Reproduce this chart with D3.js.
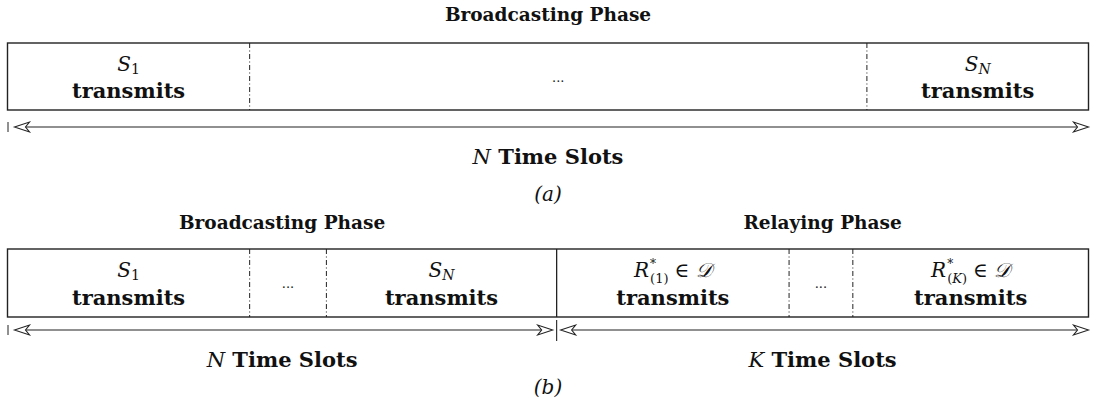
<!DOCTYPE html>
<html><head><meta charset="utf-8">
<script src="https://cdn.jsdelivr.net/npm/d3@7"></script>
<style>body{margin:0;background:#fff}svg{display:block}</style>
</head><body>
<script>
// ---- data ----
const titleA = "Broadcasting Phase";
const titleB = ["Broadcasting Phase", "Relaying Phase"];
// boundaries on a 0..100 time axis
const boundsA = [0, 22.4, 79.5, 100];
const boundsB = [0, 22.4, 29.5, 50.8, 72.3, 78.2, 100];
const styleA = ["dash", "dash"];           // interior dividers
const styleB = ["dash", "dash", "solid", "dash", "dash"];
const labelsA = [["S", "1"], ["dots"], ["S", "N"]];
const labelsB = [["S", "1"], ["dots"], ["S", "N"], ["R", "(1)"], ["dots"], ["R", "(K)"]];
const slotLabelsA = [{v: "N", t: " Time Slots", from: 0, to: 100}];
const slotLabelsB = [{v: "N", t: " Time Slots", from: 0, to: 50.8}, {v: "K", t: " Time Slots", from: 50.8, to: 100}];
const captions = ["(a)", "(b)"];

const W = 1096, H = 403;
const FONT = "'DejaVu Serif', serif";
const svg = d3.select("body").append("svg").attr("width", W).attr("height", H)
  .attr("font-family", FONT).attr("fill", "#111");
const x = d3.scaleLinear().domain([0, 100]).range([7.5, 1088.5]);
const ink = "#222";

function arrowHead(g, tipX, y, dir) {
  const L = 15, h = 5, notch = 4;
  const bx = tipX - dir * L;
  g.append("path")
    .attr("d", `M${tipX},${y} L${bx},${y - h} L${bx + dir * notch},${y} L${bx},${y + h} Z`)
    .attr("fill", "#fff").attr("stroke", ink).attr("stroke-width", 1.1).attr("stroke-linejoin", "miter");
}

function mathLabel(g, cx, y, lab) {
  if (lab[0] === "dots") {
    g.append("text").attr("x", cx).attr("y", y + 11).attr("text-anchor", "middle")
      .attr("font-size", 13).attr("fill", "#222").text("...");
    return;
  }
  if (lab[0] === "R") {
    const grp = g.append("g");
    const r = grp.append("text").attr("x", 0).attr("y", y).attr("font-size", 20).attr("font-style", "italic").text("R");
    const rw = r.node().getComputedTextLength();
    const sub = grp.append("text").attr("x", rw + 1).attr("y", y + 6).attr("font-size", 13);
    sub.append("tspan").text("(");
    sub.append("tspan").attr("font-style", lab[1].includes("K") ? "italic" : "normal").text(lab[1].slice(1, -1));
    sub.append("tspan").text(")");
    const sw = sub.node().getComputedTextLength();
    grp.append("text").attr("x", rw + 1).attr("y", y - 9).attr("font-size", 12).text("*");
    const rest = grp.append("text").attr("x", rw + sw + 7).attr("y", y).attr("font-size", 20);
    rest.append("tspan").text("\u2208 ");
    rest.append("tspan").attr("font-style", "italic").text("\uD835\uDC9F");
    const total = rw + sw + 7 + rest.node().getComputedTextLength();
    grp.attr("transform", `translate(${cx - total / 2},0)`);
    return;
  }
  const t = g.append("text").attr("x", cx).attr("y", y).attr("text-anchor", "middle").attr("font-size", 20);
  t.append("tspan").attr("font-style", "italic").text(lab[0]);
  t.append("tspan").attr("font-size", 14).attr("dy", 3).attr("font-style", lab[1] === "N" ? "italic" : "normal").text(lab[1]);
}

function panel(yTop, yBot, bounds, styles, labels, arrowY, slotLabels, tickExtra, offS, offT) {
  const g = svg.append("g");
  g.append("rect").attr("x", x(0)).attr("y", yTop).attr("width", x(100) - x(0)).attr("height", yBot - yTop)
    .attr("fill", "none").attr("stroke", ink).attr("stroke-width", 1.4);
  bounds.slice(1, -1).forEach((b, i) => {
    g.append("line").attr("x1", x(b)).attr("x2", x(b)).attr("y1", yTop).attr("y2", yBot)
      .attr("stroke", ink).attr("stroke-width", styles[i] === "solid" ? 1.3 : 1)
      .attr("stroke-dasharray", styles[i] === "solid" ? null : "5,2.5,1,2.5");
  });
  labels.forEach((lab, i) => {
    const cx = (x(bounds[i]) + x(bounds[i + 1])) / 2;
    mathLabel(g, cx, yTop + offS, lab);
    if (lab[0] !== "dots") {
      g.append("text").attr("x", cx).attr("y", yTop + offT).attr("text-anchor", "middle")
        .attr("font-size", 21).attr("font-weight", "bold").text("transmits");
    }
  });
  g.append("line").attr("x1", x(0) + 0.5).attr("x2", x(0) + 0.5).attr("y1", arrowY - 5).attr("y2", arrowY + 5)
    .attr("stroke", ink).attr("stroke-width", 1);
  slotLabels.forEach((s, i) => {
    const a = x(s.from) + (i === 0 ? 7 : 4), b = x(s.to) - (i === slotLabels.length - 1 ? 0 : 4);
    g.append("line").attr("x1", a + 10).attr("x2", b - 10).attr("y1", arrowY).attr("y2", arrowY)
      .attr("stroke", ink).attr("stroke-width", 1.2);
    arrowHead(g, a, arrowY, -1);
    arrowHead(g, b, arrowY, 1);
    const t = g.append("text").attr("x", (x(s.from) + x(s.to)) / 2).attr("y", arrowY + 37)
      .attr("text-anchor", "middle").attr("font-size", 21);
    t.append("tspan").attr("font-style", "italic").text(s.v);
    t.append("tspan").attr("font-weight", "bold").text(s.t);
  });
  if (tickExtra != null) {
    g.append("line").attr("x1", x(tickExtra)).attr("x2", x(tickExtra)).attr("y1", yBot + 3).attr("y2", yBot + 24)
      .attr("stroke", ink).attr("stroke-width", 1.1);
  }
  return g;
}

svg.append("text").attr("x", x(50)).attr("y", 21).attr("text-anchor", "middle")
  .attr("font-size", 18.5).attr("font-weight", "bold").text(titleA);
svg.append("text").attr("x", (x(0) + x(50.8)) / 2).attr("y", 229).attr("text-anchor", "middle")
  .attr("font-size", 18.5).attr("font-weight", "bold").text(titleB[0]);
svg.append("text").attr("x", (x(50.8) + x(100)) / 2).attr("y", 229).attr("text-anchor", "middle")
  .attr("font-size", 18.5).attr("font-weight", "bold").text(titleB[1]);

panel(43, 110, boundsA, styleA, labelsA, 127, slotLabelsA, null, 28, 55);
panel(249, 317, boundsB, styleB, labelsB, 330, slotLabelsB, 50.8, 28, 56);

svg.append("text").attr("x", x(50)).attr("y", 201).attr("text-anchor", "middle")
  .attr("font-size", 20).attr("font-style", "italic").text(captions[0]);
svg.append("text").attr("x", x(50)).attr("y", 394).attr("text-anchor", "middle")
  .attr("font-size", 20).attr("font-style", "italic").text(captions[1]);
</script>
</body></html>
